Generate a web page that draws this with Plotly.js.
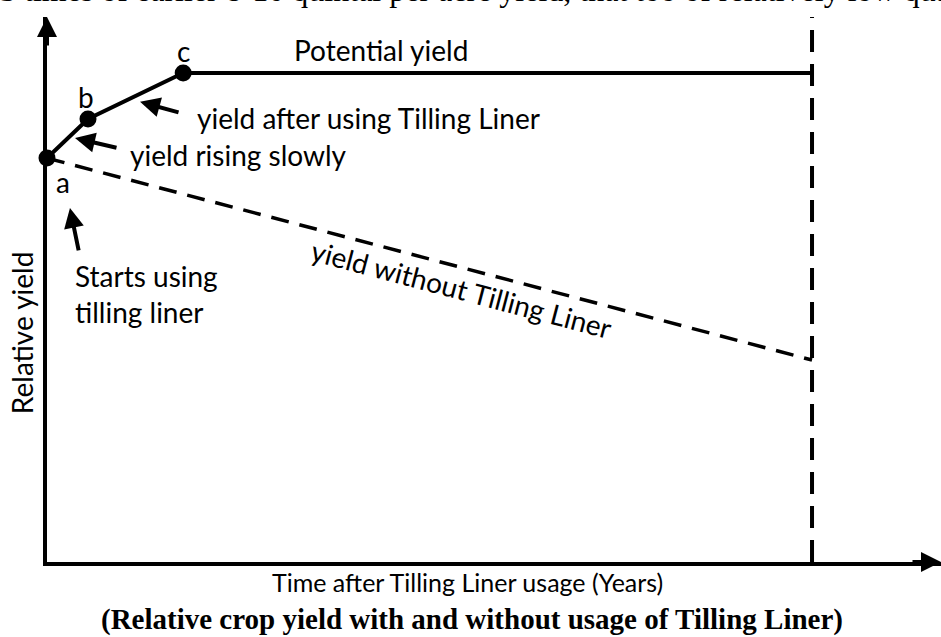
<!DOCTYPE html>
<html>
<head>
<meta charset="utf-8">
<script src="https://cdn.plot.ly/plotly-3.0.1.min.js"></script>
<style>html,body{margin:0;padding:0;background:#fff;}#chart{width:941px;height:637px;}</style>
</head>
<body>
<div id="chart"></div>
<script>
// ---- data (time in arbitrary years units, relative yield in %) ----
var withLinerX = [0, 0.536, 1.78, 10];
var withLinerY = [82.6, 90.6, 100, 100];
var pointX = [0, 0.536, 1.78];
var pointY = [82.6, 90.6, 100];
var pointLabels = ['a', 'b', 'c'];
var withoutLinerX = [0, 10];
var withoutLinerY = [82.6, 41.3];
var horizonX = [10, 10];
var horizonY = [0, 111.45];
var xMax = 11.686;
var yMax = 111.45;

var sans = 'Lato, "Open Sans", sans-serif';
var serif = '"Liberation Serif", "Times New Roman", serif';
var blk = '#000000';

var traces = [
  {x: withLinerX, y: withLinerY, mode: 'lines', cliponaxis: false,
   line: {color: blk, width: 4}, hoverinfo: 'skip'},
  {x: withoutLinerX, y: withoutLinerY, mode: 'lines', cliponaxis: false,
   line: {color: blk, width: 3.5, dash: '18px,11px'}, hoverinfo: 'skip'},
  {x: horizonX, y: horizonY, mode: 'lines', cliponaxis: false,
   line: {color: blk, width: 4, dash: '22px,12px'}, hoverinfo: 'skip'},
  {x: pointX, y: pointY, mode: 'markers', cliponaxis: false,
   marker: {color: blk, size: 17, opacity: 1, line: {width: 0}}, hoverinfo: 'skip'}
];

function txt(t, x, y, opts) {
  var a = {text: t, x: x, y: y, xref: 'x', yref: 'y', showarrow: false,
           font: {family: sans, size: 28, color: blk}, xanchor: 'center', yanchor: 'middle'};
  for (var k in opts) a[k] = opts[k];
  return a;
}
function arrow(x, y, ax, ay, w) {
  return {x: x, y: y, xref: 'x', yref: 'y', text: '', showarrow: true,
          ax: ax, ay: ay, arrowhead: 2, arrowsize: 1, arrowwidth: w || 4, arrowcolor: blk};
}

var annotations = [
  // axis arrowheads
  arrow(0, yMax, 0, 30, 4),
  arrow(xMax, 0, -30, 0, 4),
  // point labels
  txt(pointLabels[0], 0.21, 77.7),
  txt(pointLabels[1], 0.51, 95.1),
  txt(pointLabels[2], 1.78, 104.5),
  txt('Potential yield', 4.37, 104.7),
  txt('yield after using Tilling Liner', 1.93, 90.8, {xanchor: 'left'}),
  arrow(1.216, 94.1, 40, 11),
  txt('yield rising slowly', 1.06, 83.2, {xanchor: 'left'}),
  arrow(0.366, 86.7, 43, 10),
  txt('Starts using<br>tilling liner', 0.34, 54.9, {xanchor: 'left', align: 'left'}),
  arrow(0.30, 72.4, 9, 44),
  txt('yield without Tilling Liner', 5.42, 55.9, {textangle: 14.8, font: {family: sans, size: 28, color: blk}}),
  // y title
  {text: 'Relative yield', xref: 'paper', yref: 'y', x: -0.028, y: 47, showarrow: false,
   textangle: -90, xanchor: 'center', yanchor: 'middle', font: {family: sans, size: 28, color: blk}},
  // x title
  {text: 'Time after Tilling Liner usage (Years)', xref: 'paper', yref: 'paper', x: 0.47, y: -0.006,
   showarrow: false, xanchor: 'center', yanchor: 'top', font: {family: sans, size: 25, color: blk}},
  // caption
  {text: '<b>(Relative crop yield with and without usage of Tilling Liner)</b>', xref: 'paper', yref: 'paper',
   x: 0.475, y: -0.072, showarrow: false, xanchor: 'center', yanchor: 'top', font: {family: serif, size: 29, color: blk}},
  // clipped line of document text at top
  {text: '3 times of earlier 8-10 quintal per acre yield, that too of relatively low quality', xref: 'paper', yref: 'paper',
   x: -0.055, y: 1.012, showarrow: false, xanchor: 'left', yanchor: 'bottom', font: {family: serif, size: 32, color: blk}}
];

var layout = {
  width: 941, height: 637,
  margin: {l: 47, r: 0, t: 17, b: 75, pad: 0},
  paper_bgcolor: '#ffffff', plot_bgcolor: '#ffffff',
  showlegend: false,
  xaxis: {range: [0, xMax], showgrid: false, zeroline: false, showticklabels: false, ticks: '',
          showline: true, linewidth: 4, linecolor: blk, fixedrange: true},
  yaxis: {range: [0, yMax], showgrid: false, zeroline: false, showticklabels: false, ticks: '',
          showline: true, linewidth: 4, linecolor: blk, fixedrange: true},
  annotations: annotations
};

Plotly.newPlot('chart', traces, layout, {staticPlot: true, displayModeBar: false});
</script>
</body>
</html>
